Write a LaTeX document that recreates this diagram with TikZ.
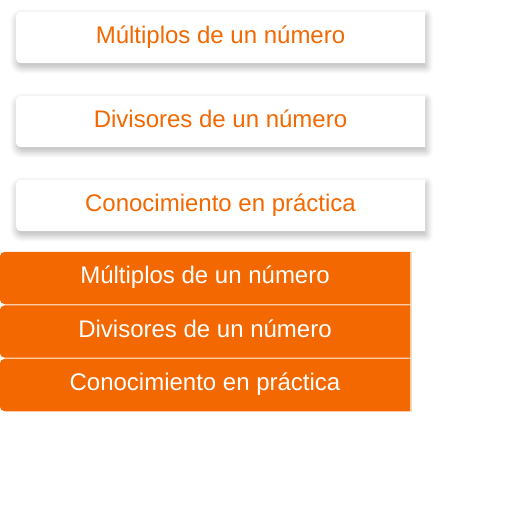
\documentclass[tikz,border=0pt]{standalone}
\usepackage{fontspec}
\setmainfont{Liberation Sans}
\usetikzlibrary{backgrounds}
\usetikzlibrary{shadows.blur}

\definecolor{tabOrange}{RGB}{243,104,0}
\definecolor{tabPeach}{RGB}{252,218,190}

\tikzset{
	card/.style={minimum width=409pt, minimum height=51pt, text height=17pt, text depth=6pt, inner sep=0pt, font=\fontsize{24}{28}\selectfont, text=tabOrange},
	tab/.style={minimum width=410pt, minimum height=52pt, text height=17pt, text depth=6pt, inner sep=0pt, font=\fontsize{24}{28}\selectfont, text=white},
	cardfill/.style={fill=white, blur shadow={shadow xshift=1pt, shadow yshift=-4pt, shadow blur radius=7pt, shadow blur steps=10, shadow opacity=30}},
	tabfill/.style={fill=tabOrange},
}

\begin{document}
\begin{tikzpicture}[x=1pt,y=-1pt]
						\useasboundingbox (0,0) rectangle (512,512);
						% cards
						\node[card] (mult) at (220.5,37.5) {Múltiplos de un número};
						\node[card] (divi) at (220.5,121.5) {Divisores de un número};
						\node[card] (cono) at (220.5,205.5) {Conocimiento en práctica};
						% tabs
						\node[tab] (multTab) at (205,278) {Múltiplos de un número};
						\node[tab] (diviTab) at (205,331.5) {Divisores de un número};
						\node[tab] (conoTab) at (205,385) {Conocimiento en práctica};
						\begin{pgfonlayer}{background}
							\fill[tabPeach] (5,252) rectangle (412,411.5);
							\foreach \n/\s in {mult/cardfill,divi/cardfill,cono/cardfill,multTab/tabfill,diviTab/tabfill,conoTab/tabfill}
								\path[\s] (\n.north) [rounded corners=5pt] -- (\n.north west) -- (\n.south west) -- (\n.south) [sharp corners] -- (\n.south east) -- (\n.north east) -- cycle;
						\end{pgfonlayer}
					\end{tikzpicture}
\end{document}
